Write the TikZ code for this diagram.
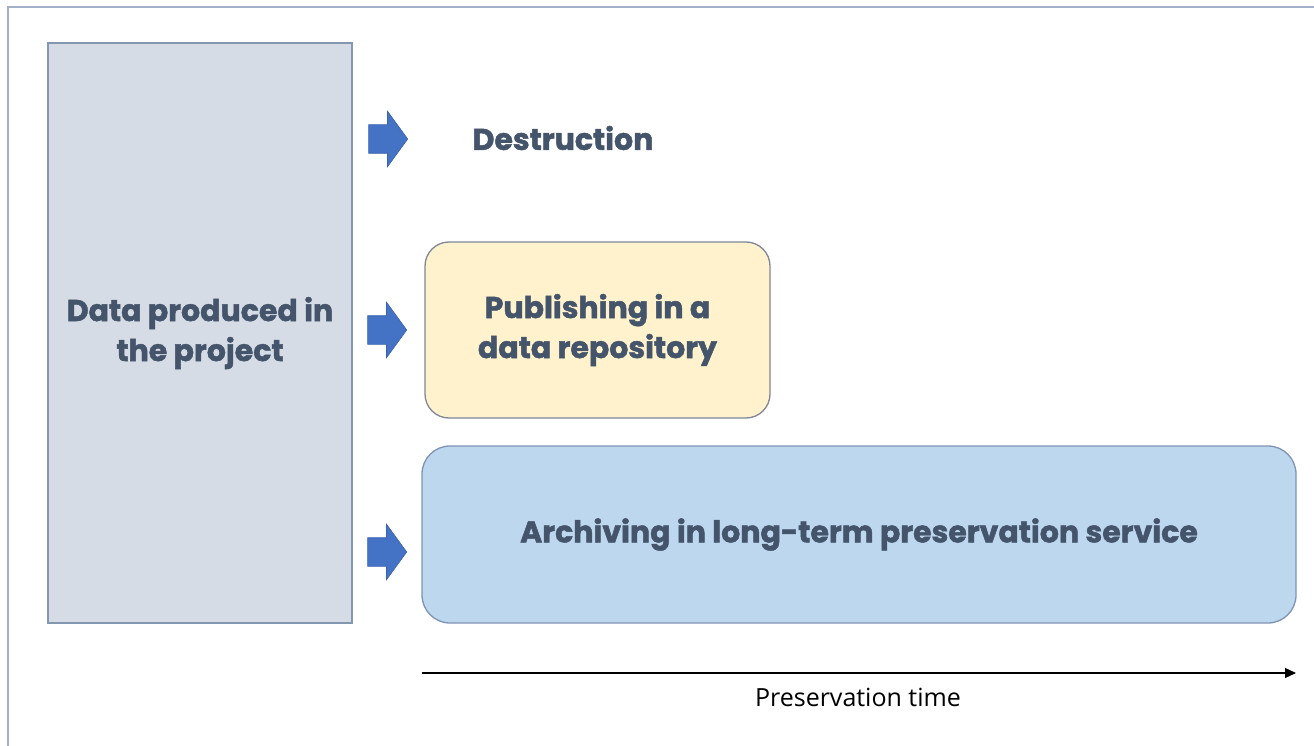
\documentclass[tikz,border=0pt]{standalone}
\usepackage{fontspec}
\usetikzlibrary{shapes.arrows,arrows.meta}
\newfontfamily\headfont{Poppins}[BoldFeatures={FakeBold=1.6}]
\newfontfamily\axisfont{Open Sans}
\definecolor{slatetext}{HTML}{44546A}
\definecolor{projfill}{HTML}{D6DCE5}
\definecolor{projline}{HTML}{8497B0}
\definecolor{pubfill}{HTML}{FFF2CC}
\definecolor{publine}{HTML}{7F8698}
\definecolor{archfill}{HTML}{BDD7EE}
\definecolor{archline}{HTML}{7F93B5}
\definecolor{arrowfill}{HTML}{4472C4}
\definecolor{arrowline}{HTML}{3A62AE}
\definecolor{frameline}{HTML}{A3B0C9}
\tikzset{
  boxtext/.style={font=\headfont\bfseries\fontsize{30}{40}\selectfont, text=slatetext, align=center},
  stagebox/.style={boxtext, draw, line width=1.3pt, inner sep=0pt},
  blockarrow/.style={single arrow, fill=arrowfill, draw=arrowline, line width=0.6pt,
    minimum height=39pt, single arrow head extend=13.5pt,
    single arrow tip angle=108, inner xsep=0pt, inner ysep=14pt}
}
\begin{document}
\begin{tikzpicture}[x=1pt,y=-1pt]
  \useasboundingbox (0,0) rectangle (1314,746);
  \draw[frameline, line width=2pt] (8,746) -- (8,7) -- (1314,7);

  \node[stagebox, fill=projfill, draw=projline, minimum width=304pt, minimum height=580pt] (proj) at (200,333) {Data produced in\\the project};

  \node[boxtext] (destr) at (563,138) {Destruction};
  \node[stagebox, fill=pubfill, draw=publine, rounded corners=24pt, minimum width=345pt, minimum height=176pt] (pub) at (597.5,330) {Publishing in a\\data repository};
  \node[stagebox, fill=archfill, draw=archline, rounded corners=28pt, minimum width=874pt, minimum height=177pt] (arch) at (859,534.5) {Archiving in long-term preservation service};

  \node[blockarrow] (a1) at (383,139) {};
  \node[blockarrow] (a2) at (382,330) {};
  \node[blockarrow] (a3) at (382,552) {};

  \coordinate (t0) at (422,673);
  \coordinate (t1) at (1296,673);
  \draw[-{Triangle[length=11pt,width=10pt]}, line width=1.2pt] (t0) -- (t1);
  \node[font=\axisfont\fontsize{25}{30}\selectfont] (ptime) at (858,697) {Preservation time};
\end{tikzpicture}
\end{document}
